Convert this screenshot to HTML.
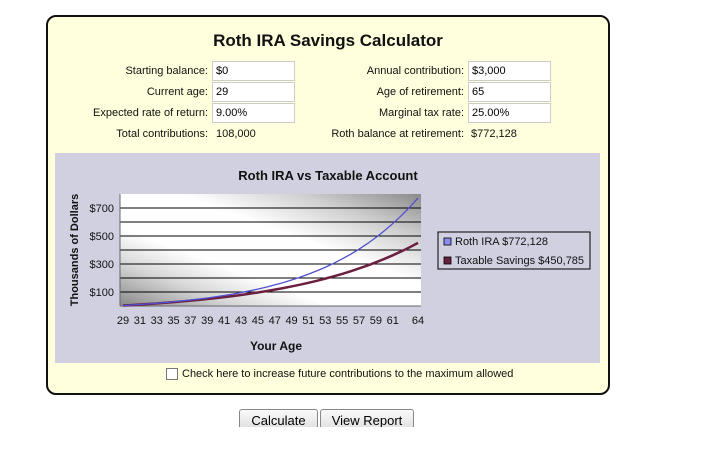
<!DOCTYPE html>
<html><head><meta charset="utf-8">
<style>
body{margin:0;width:720px;height:450px;background:#fff;position:relative;overflow:hidden;font-family:"Liberation Sans",Arial,sans-serif;}
.abs{position:absolute;}
#panel{left:46px;top:15px;width:560px;height:376px;border:2px solid #111;border-radius:10px;background:#ffffdd;}
.lbl{position:absolute;font-size:11px;color:#111;text-align:right;}
.inp{position:absolute;width:78px;height:18px;border:1px solid #ccc;background:#fff;font-size:11px;line-height:18px;padding-left:3px;box-sizing:content-box;}
.val{position:absolute;font-size:11px;color:#111;}
.btn{position:absolute;top:409px;height:22px;border:1px solid #888;border-radius:3px;background:linear-gradient(#fafafa,#dcdcdc);font-size:13px;text-align:center;line-height:22px;}
</style></head><body>
<div id="panel" class="abs"></div>
<div class="abs" style="left:46px;width:564px;top:31px;text-align:center;font-size:17px;font-weight:bold;color:#111">Roth IRA Savings Calculator</div>

<div class="lbl" style="right:512px;top:65px">Starting balance:</div>
<div class="inp" style="left:212px;top:61px">$0</div>
<div class="lbl" style="right:512px;top:86px">Current age:</div>
<div class="inp" style="left:212px;top:82px">29</div>
<div class="lbl" style="right:512px;top:107px">Expected rate of return:</div>
<div class="inp" style="left:212px;top:103px">9.00%</div>
<div class="lbl" style="right:512px;top:128px">Total contributions:</div>
<div class="val" style="left:216px;top:128px">108,000</div>

<div class="lbl" style="right:256px;top:65px">Annual contribution:</div>
<div class="inp" style="left:468px;top:61px">$3,000</div>
<div class="lbl" style="right:256px;top:86px">Age of retirement:</div>
<div class="inp" style="left:468px;top:82px">65</div>
<div class="lbl" style="right:256px;top:107px">Marginal tax rate:</div>
<div class="inp" style="left:468px;top:103px">25.00%</div>
<div class="lbl" style="right:256px;top:128px">Roth balance at retirement:</div>
<div class="val" style="left:471px;top:128px">$772,128</div>

<svg class="abs" style="left:55px;top:153px" width="545" height="210">
<defs>
<linearGradient id="bg" x1="0" y1="1" x2="1" y2="0">
<stop offset="0" stop-color="#888"/><stop offset="0.2" stop-color="#d8d8d8"/><stop offset="0.35" stop-color="#fff"/><stop offset="0.6" stop-color="#fff"/><stop offset="0.8" stop-color="#cfcfcf"/><stop offset="1" stop-color="#8a8a8a"/>
</linearGradient>
</defs>
<rect width="545" height="210" fill="#d0d0e0"/>
<g id="g"></g>
</svg>

<div class="abs" style="left:166px;top:368px;width:10px;height:10px;border:1px solid #777;background:#fff"></div>
<div class="abs" style="left:182px;top:368px;font-size:11px;color:#111">Check here to increase future contributions to the maximum allowed</div>

<div style="position:absolute;left:0;top:0;width:720px;height:427px;overflow:hidden">
<div class="btn" style="left:239px;width:77px">Calculate</div>
<div class="btn" style="left:320px;width:92px">View Report</div>
</div>

<script>
const ages = [29,30,31,32,33,34,35,36,37,38,39,40,41,42,43,44,45,46,47,48,49,50,51,52,53,54,55,56,57,58,59,60,61,62,63,64];
const rothValues = [3.3,6.8,10.7,15.0,19.6,24.6,30.1,36.1,42.6,49.7,57.4,65.9,75.1,85.1,96.0,107.9,120.9,135.0,150.5,167.3,185.6,205.6,227.4,251.1,276.9,305.1,335.9,369.4,405.9,445.7,489.1,536.4,587.9,644.1,705.3,772.1];
const taxableValues = [3.2,6.6,10.3,14.2,18.3,22.8,27.5,32.6,38.0,43.7,49.9,56.4,63.5,70.9,78.9,87.5,96.6,106.3,116.7,127.7,139.6,152.2,165.7,180.1,195.4,211.8,229.3,248.0,267.9,289.2,311.9,336.2,362.1,389.7,419.2,450.8];
const xTickLabels = [29,31,33,35,37,39,41,43,45,47,49,51,53,55,57,59,61,64];
const yTickLabels = [100,300,500,700];
const yMax = 800;

const NS="http://www.w3.org/2000/svg";
const g=document.getElementById('g');
const L=65,R=366,T=41,B=153;
const xs=a=>L+3+(a-ages[0])/(ages[ages.length-1]-ages[0])*(R-L-6);
const ys=v=>B-v/yMax*(B-T);
function mk(t,at){const e=document.createElementNS(NS,t);for(const k in at)e.setAttribute(k,at[k]);g.appendChild(e);return e;}
let e=mk('rect',{x:L,y:T,width:R-L,height:B-T,fill:'url(#bg)'});


for(let v=100;v<yMax;v+=100){
 e=mk('line',{x1:L,x2:R,y1:ys(v),y2:ys(v),stroke:'#000','stroke-width':1});
 
 
}
e=mk('line',{x1:L,x2:L,y1:T,y2:B,stroke:'#666'});


e=mk('line',{x1:L,x2:R,y1:B,y2:B,stroke:'#666'});


yTickLabels.forEach(v=>{
 const t=mk('text',{x:L-6,y:ys(v)+4,'text-anchor':'end','font-size':11,fill:'#111'});t.textContent='$'+v;
 
 
});
xTickLabels.forEach(a=>{
 const t=mk('text',{x:xs(a),y:B+18,'text-anchor':'middle','font-size':11,fill:'#111'});t.textContent=a;
 
 
});
function line(vals,col,w,name){
 const p=mk('polyline',{points:vals.map((v,i)=>xs(ages[i])+','+ys(v)).join(' '),fill:'none',stroke:col,'stroke-width':w});
 
 
}
line(taxableValues,'#6b2040',2.5,'taxable-savings-line');
line(rothValues,'#5050d0',1.3,'roth-ira-line');
let t=mk('text',{x:273,y:27,'text-anchor':'middle','font-size':13,'font-weight':'bold',fill:'#111'});t.textContent='Roth IRA vs Taxable Account';


t=mk('text',{x:221,y:197,'text-anchor':'middle','font-size':12,'font-weight':'bold',fill:'#111'});t.textContent='Your Age';


t=mk('text',{x:0,y:0,'text-anchor':'middle','font-size':11,'font-weight':'bold',fill:'#111',transform:'translate(23,97) rotate(-90)'});t.textContent='Thousands of Dollars';


e=mk('rect',{x:383,y:79,width:152,height:37,fill:'#d0d0e0',stroke:'#000'});


[['#8a8af0','Roth IRA $772,128'],['#6b2040','Taxable Savings $450,785']].forEach((d,i)=>{
 const s=mk('rect',{x:389,y:85+i*19,width:7,height:7,fill:d[0],stroke:'#000','stroke-width':0.8});
 
 
 const tx=mk('text',{x:400,y:92+i*19,'font-size':11,fill:'#111'});tx.textContent=d[1];
 
 
});
</script>
</body></html>
